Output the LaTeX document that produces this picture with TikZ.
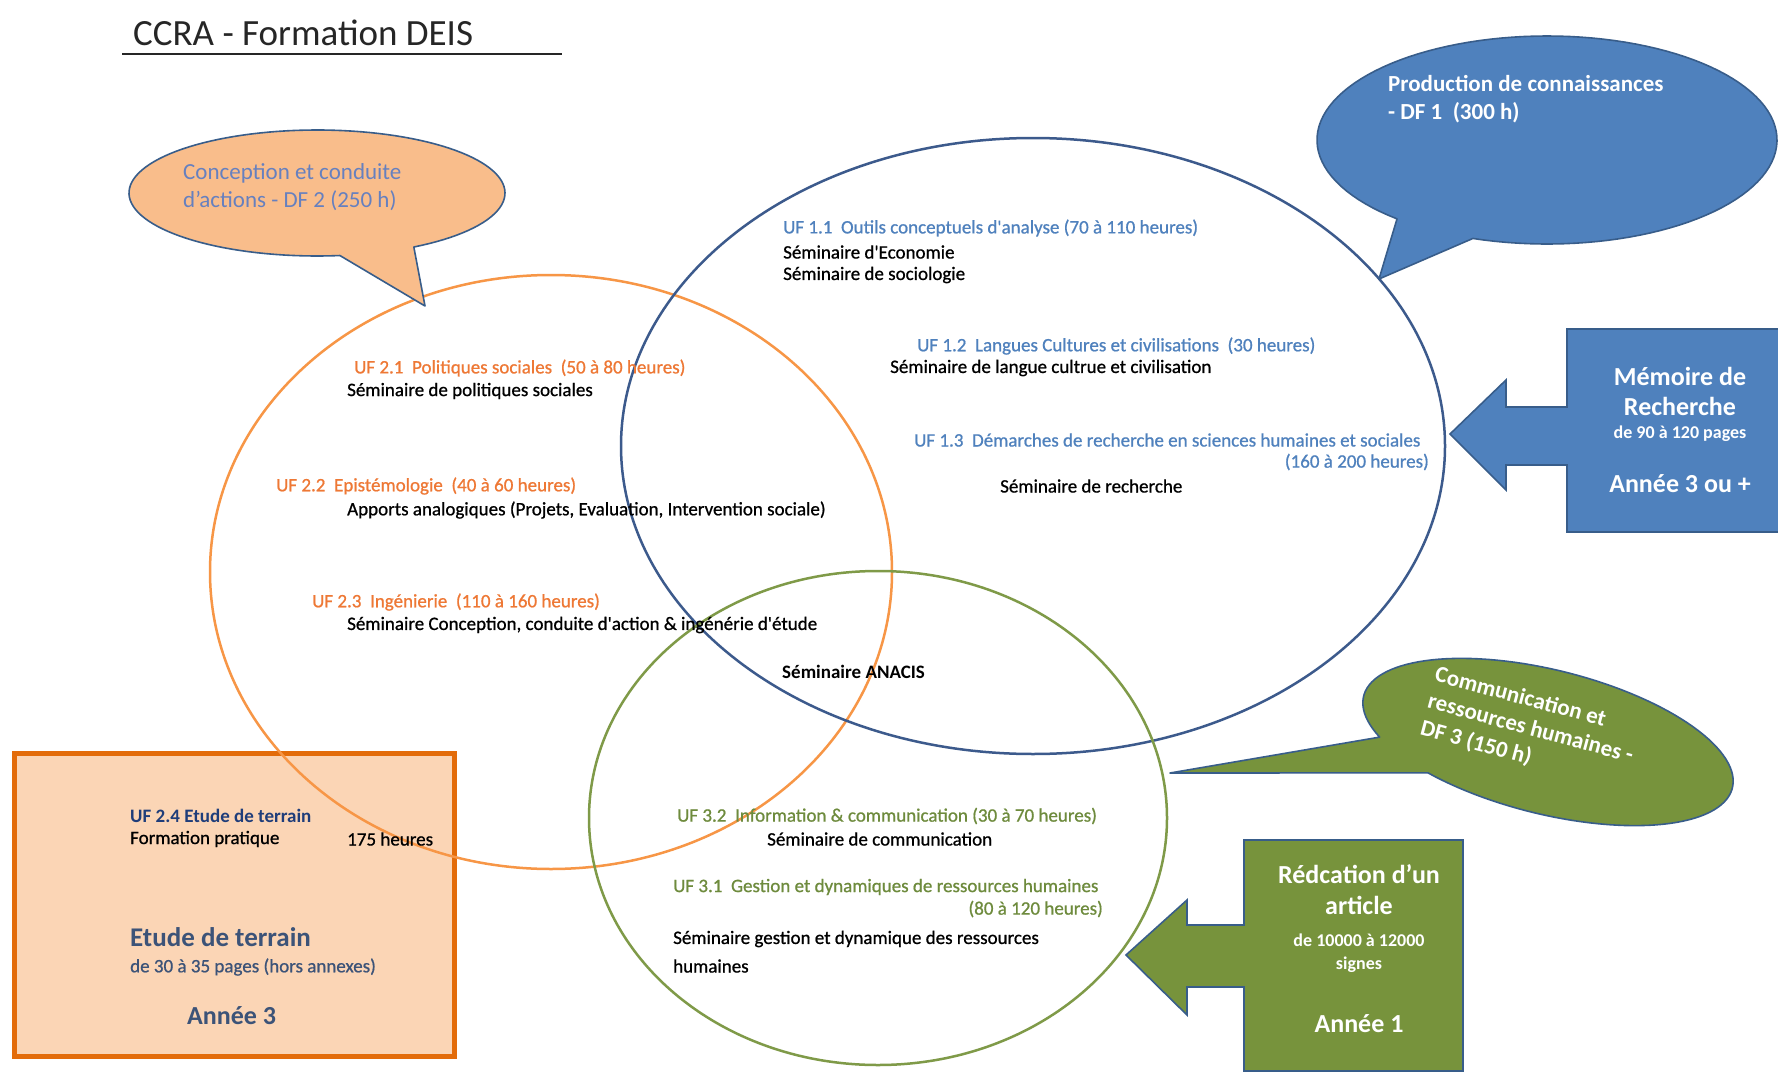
\documentclass[tikz,border=0pt]{standalone}
\usepackage{fontspec}
\setmainfont{Carlito}
\newfontfamily\heavyfont[FakeBold=0.8]{Carlito}
\definecolor{titlegray}{HTML}{262626}
\definecolor{blueline}{HTML}{3C5A8C}
\definecolor{orangeline}{HTML}{F79646}
\definecolor{greenline}{HTML}{7F9A48}
\definecolor{shapeborder}{HTML}{385D8A}
\definecolor{orangefill}{HTML}{F9BD8B}
\definecolor{peachfill}{HTML}{FBD5B5}
\definecolor{peachborder}{HTML}{E36C0A}
\definecolor{bluefill}{HTML}{4F81BD}
\definecolor{greenfill}{HTML}{77933C}
\definecolor{ufblue}{HTML}{4F81BD}
\definecolor{uforange}{HTML}{EE7835}
\definecolor{ufgreen}{HTML}{6E8B3D}
\definecolor{bubbletext}{HTML}{6680BF}
\definecolor{navytext}{HTML}{1F3D7A}
\definecolor{slatetext}{HTML}{3C5378}
\begin{document}
\begin{tikzpicture}[x=1pt,y=-1pt,
  body/.style={inner sep=0pt, anchor=west, text=black, font=\heavyfont\fontsize{19}{23}\selectfont},
  ufb/.style={body, text=ufblue},
  ufo/.style={body, text=uforange},
  ufg/.style={body, text=ufgreen},
  whitebig/.style={inner sep=0pt, text=white, font=\bfseries\fontsize{26}{30}\selectfont},
  whitesmall/.style={inner sep=0pt, text=white, font=\bfseries\fontsize{18}{21}\selectfont},
  bubble/.style={inner sep=0pt, anchor=west, font=\bfseries\fontsize{23}{28}\selectfont, text=white},
  venn/.style={line width=2.5pt}
]
\useasboundingbox (0,0) rectangle (1778,1073);
\fill[white] (0,0) rectangle (1778,1073);

% title
\node[inner sep=0pt, anchor=base west, text=titlegray, font=\fontsize{37}{44}\selectfont] (title) at (133,46) {CCRA - Formation DEIS};
\draw[titlegray, line width=2pt] (122,54) -- (562,54);

% field study box
\draw[peachborder, fill=peachfill, line width=5pt] (14,753) rectangle (454,1056);

% the three domains
\draw[venn, orangeline] (551,572) ellipse [x radius=341, y radius=297];
\draw[venn, blueline] (1033,446) ellipse [x radius=412, y radius=308];
\draw[venn, greenline] (878,818) ellipse [x radius=289, y radius=247];

% speech bubbles
\filldraw[fill=orangefill, draw=shapeborder, line width=1.6pt, line join=round]
  (425,306) -- plot[domain=-277:59, samples=120, variable=\t] ({317+188*cos(\t)},{193+63*sin(\t)}) -- cycle;
\filldraw[fill=bluefill, draw=shapeborder, line width=1.6pt, line join=round]
  (1379,279) -- plot[domain=130.7:468.8, samples=120, variable=\t] ({1547+230*cos(\t)},{140+104*sin(\t)}) -- cycle;
\filldraw[fill=greenfill, draw=shapeborder, line width=1.6pt, line join=round]
  (1170,773) -- plot[domain=150:485, samples=120, variable=\t]
  ({1548+190*cos(\t)*cos(14)-72*sin(\t)*sin(14)},{742+190*cos(\t)*sin(14)+72*sin(\t)*cos(14)}) -- cycle;

% arrow boxes
\filldraw[fill=bluefill, draw=shapeborder, line width=1.6pt, line join=miter]
  (1450,434) -- (1506,380) -- (1506,407) -- (1567,407) -- (1567,329) -- (1784,329)
  -- (1784,532) -- (1567,532) -- (1567,465) -- (1506,465) -- (1506,490) -- cycle;
\filldraw[fill=greenfill, draw=shapeborder, line width=1.6pt, line join=miter]
  (1126,955) -- (1187,900) -- (1187,925) -- (1244,925) -- (1244,840) -- (1463,840)
  -- (1463,1071) -- (1244,1071) -- (1244,987) -- (1187,987) -- (1187,1015) -- cycle;

% bubble texts
\node[inner sep=0pt, anchor=west, align=left, text=bubbletext, font=\fontsize{23}{28}\selectfont] (df2) at (183,187)
  {Conception et conduite\\d'actions - DF 2 (250 h)};
\node[bubble, align=left, anchor=north west] (df1) at (1388,75)
  {Production de connaissances\\- DF 1~ (300 h)};
\node[bubble, rotate=-15, align=left, anchor=north west] (df3) at (1438,665)
  {Communication et\\ressources humaines -\\DF 3 (150 h)};

% DF 1 content
\node[ufb] (uf11) at (783,228) {UF 1.1~ Outils conceptuels d'analyse (70 à 110 heures)};
\node[body] (s11a) at (783,252) {Séminaire d'Economie};
\node[body] (s11b) at (783,275) {Séminaire de sociologie};
\node[ufb] (uf12) at (917,346) {UF 1.2~ Langues Cultures et civilisations~ (30 heures)};
\node[body] (s12) at (890,368) {Séminaire de langue cultrue et civilisation};
\node[ufb] (uf13) at (914,440) {UF 1.3~ Démarches de recherche en sciences humaines et sociales};
\node[ufb, anchor=east] (uf13h) at (1429,462) {(160 à 200 heures)};
\node[body] (s13) at (1000,486) {Séminaire de recherche};

% DF 2 content
\node[ufo] (uf21) at (354,368) {UF 2.1~ Politiques sociales~ (50 à 80 heures)};
\node[body] (s21) at (347,391) {Séminaire de politiques sociales};
\node[ufo] (uf22) at (276,486) {UF 2.2~ Epistémologie~ (40 à 60 heures)};
\node[body] (s22) at (347,510) {Apports analogiques (Projets, Evaluation, Intervention sociale)};
\node[ufo] (uf23) at (312,602) {UF 2.3~ Ingénierie~ (110 à 160 heures)};
\node[body] (s23) at (347,625) {Séminaire Conception, conduite d'action \& ingénérie d'étude};
\node[body, font=\bfseries\fontsize{19}{23}\selectfont] (anacis) at (782,672) {Séminaire ANACIS};

% DF 3 content
\node[ufg] (uf32) at (677,816) {UF 3.2~ Information \& communication (30 à 70 heures)};
\node[body] (s32) at (767,839) {Séminaire de communication};
\node[ufg] (uf31) at (673,887) {UF 3.1~ Gestion et dynamiques de ressources humaines};
\node[ufg, anchor=east] (uf31h) at (1103,909) {(80 à 120 heures)};
\node[body] (s31a) at (673,939) {Séminaire gestion et dynamique des ressources};
\node[body] (s31b) at (673,966) {humaines};

% field study texts
\node[body, text=navytext, font=\bfseries\fontsize{19}{23}\selectfont] (uf24) at (130,816) {UF 2.4 Etude de terrain};
\node[body] (fp) at (130,839) {Formation pratique};
\node[body] (fph) at (347,839) {175 heures};
\node[body, text=slatetext, font=\bfseries\fontsize{27}{32}\selectfont] (etude) at (130,937) {Etude de terrain};
\node[body, text=slatetext] (etudep) at (130,967) {de 30 à 35 pages (hors annexes)};
\node[body, text=slatetext, font=\bfseries\fontsize{26}{30}\selectfont] (etudey) at (187,1016) {Année 3};

% research thesis texts
\node[whitebig] (mem1) at (1680,376) {Mémoire de};
\node[whitebig] (mem2) at (1680,406) {Recherche};
\node[whitesmall] (mem3) at (1680,434) {de 90 à 120 pages};
\node[whitebig] (mem4) at (1680,484) {Année 3 ou +};

% article texts
\node[whitebig] (art1) at (1359,874) {Rédcation d'un};
\node[whitebig] (art2) at (1359,905) {article};
\node[whitesmall] (art3) at (1359,940) {de 10000 à 12000};
\node[whitesmall] (art4) at (1359,965) {signes};
\node[whitebig] (art5) at (1359,1024) {Année 1};
\end{tikzpicture}
\end{document}
